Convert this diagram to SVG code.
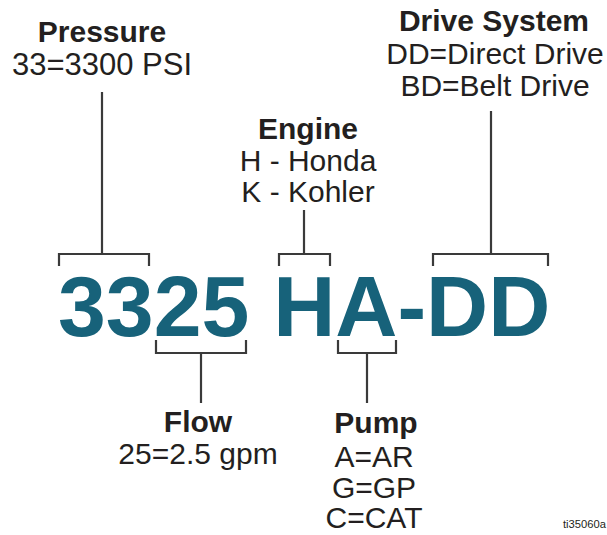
<svg xmlns="http://www.w3.org/2000/svg" width="607" height="535" viewBox="0 0 607 535">
<style>
.h{font-family:"Liberation Sans",Arial,sans-serif;font-weight:bold;font-size:30px;fill:#231f20;text-anchor:middle}
.t{font-family:"Liberation Sans",Arial,sans-serif;font-size:30px;fill:#231f20;text-anchor:middle}
.big{font-family:"Liberation Sans",Arial,sans-serif;font-weight:bold;font-size:86px;fill:#17627a}
.ln{fill:none;stroke:#3a3a3a;stroke-width:2.2}
.id{font-family:"Liberation Sans",Arial,sans-serif;font-size:11px;fill:#231f20}
</style>
<rect width="607" height="535" fill="#fff"/>
<g id="code"><text class="big" x="58" y="336">3325 HA-DD</text></g>
<g id="connectors">
<path class="ln" d="M59,266V254H149V266M102,254V92"/>
<path class="ln" d="M279,266V254H330V266M304,254V210"/>
<path class="ln" d="M433,266V254H548V266M491,254V111"/>
<path class="ln" d="M156,340V353H246V340M201,353V403"/>
<path class="ln" d="M338,340V353H396V340M367,353V403"/>
</g>
<g id="pressure"><text class="h" x="102" y="42">Pressure</text><text class="t" x="102" y="75" style="font-size:31px">33=3300 PSI</text></g>
<g id="drive"><text class="h" x="494" y="31">Drive System</text><text class="t" x="495" y="64">DD=Direct Drive</text><text class="t" x="495" y="96">BD=Belt Drive</text></g>
<g id="engine"><text class="h" x="308" y="139">Engine</text><text class="t" x="308" y="171">H - Honda</text><text class="t" x="308" y="202">K - Kohler</text></g>
<g id="flow"><text class="h" x="198" y="432">Flow</text><text class="t" x="198" y="464">25=2.5 gpm</text></g>
<g id="pump"><text class="h" x="376" y="433">Pump</text><text class="t" x="374" y="467">A=AR</text><text class="t" x="374" y="498">G=GP</text><text class="t" x="374" y="528">C=CAT</text></g>
<text class="id" x="563" y="528" textLength="43" lengthAdjust="spacingAndGlyphs">ti35060a</text>
</svg>
